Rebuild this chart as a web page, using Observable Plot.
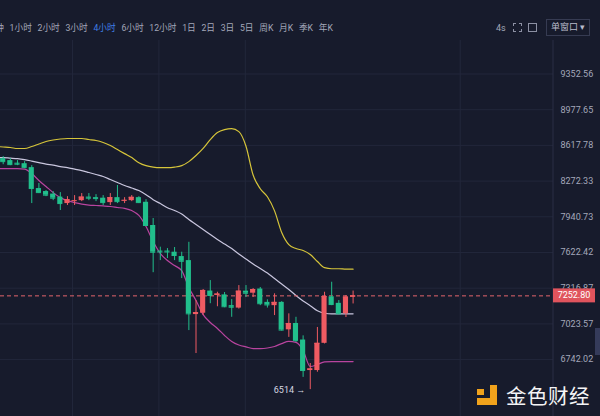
<!DOCTYPE html>
<html><head><meta charset="utf-8">
<script src="https://cdn.jsdelivr.net/npm/d3@7"></script>
<script src="https://cdn.jsdelivr.net/npm/@observablehq/plot@0.6"></script>
<style>
  html,body{margin:0;padding:0;}
  body{width:600px;height:416px;overflow:hidden;position:relative;background:#171b2c;font-family:Roboto,"Noto Sans CJK SC",sans-serif;}
  #header{position:absolute;left:0;top:0;width:600px;height:40px;overflow:hidden;}
  #periods{position:absolute;left:-13.5px;top:22px;display:flex;gap:5.7px;font-size:8.7px;line-height:12px;color:#a3a7b9;white-space:nowrap;}
  #periods span.active{color:#3f7fe6;}
  .hd{position:absolute;font-size:9px;line-height:12px;color:#a3a7b9;}
  .ico{position:absolute;top:23px;width:7px;height:7px;border:1px dashed #8c90a3;}
  #win{position:absolute;left:546px;top:19px;width:42px;height:15px;border:1px solid #363b52;font-size:9px;line-height:15px;color:#b9bccb;text-align:center;}
  #chart{position:absolute;left:0;top:40px;}
  #tab{position:absolute;left:595px;top:328px;width:5px;height:27px;background:#353b5a;}
  #wm{position:absolute;left:506px;top:383px;font-size:20.5px;line-height:24px;color:#f4f4f6;font-family:"Noto Sans CJK SC",sans-serif;letter-spacing:0.5px;}
  .lg{position:absolute;background:#f0a21c;}
</style></head>
<body>
<div id="header">
  <div id="periods"></div>
  <div class="hd" style="left:496px;top:22px;">4s</div>
  <div class="ico" style="left:513px;"></div>
  <div class="ico" style="left:528px;border-style:solid;border-color:#8c90a3;"></div>
  <div id="win">单窗口 ▾</div>
</div>
<div id="chart"></div>
<div id="tab"></div>
<div class="lg" style="left:490px;top:385px;width:7px;height:20px;"></div>
<div class="lg" style="left:477px;top:398px;width:20px;height:7px;"></div>
<div class="lg" style="left:477px;top:389px;width:7px;height:6px;"></div>
<div id="wm">金色财经</div>
<script>
// ---- data ----
const periods = ["分钟","1小时","2小时","3小时","4小时","6小时","12小时","1日","2日","3日","5日","周K","月K","季K","年K"];
const activePeriod = "4小时";

const open  = [8488,8469,8444,8439,8401,8202,8174,8150,8122,8062,8085,8089,8122,8117,8112,8071,8117,8086,8089,8117,8074,7862,7635,7635,7625,7587,7552,7099,7110,7293,7256,7261,7172,7152,7292,7275,7310,7199,7172,7199,6976,7027,6895,6658,6658,6869,7245,7191,7105,7241];
const close = [8459,8430,8434,8401,8202,8164,8140,8112,8062,8098,8089,8122,8112,8108,8071,8117,8080,8092,8120,8071,7862,7625,7627,7627,7596,7546,7105,7115,7298,7256,7268,7163,7159,7292,7275,7306,7188,7178,7199,6974,7027,6890,6658,6670,6869,7247,7181,7105,7243,7252.8];
const high  = [8508,8488,8469,8459,8420,8250,8183,8174,8164,8126,8136,8155,8155,8145,8136,8155,8231,8117,8136,8126,8098,7925,7669,7657,7666,7625,7712,7214,7306,7381,7283,7281,7222,7339,7339,7314,7323,7220,7270,7205,7105,7077,6928,6712,6995,7283,7367,7214,7256,7293];
const low   = [8429,8420,8420,8391,8062,8155,8126,8089,7998,8044,8044,8080,8089,8080,8044,8044,8062,8062,8080,8062,7852,7448,7552,7570,7552,7398,6970,6789,7091,7188,7163,7155,7077,7144,7239,7239,7172,7152,7091,6966,6916,6876,6606,6514,6645,6864,7172,7099,7075,7186];

// Bollinger bands, starting one candle before the first visible candle
const bandStart = -1;
const upperBand  = [8607,8602,8597,8587,8587,8607,8632,8656,8671,8681,8686,8686,8686,8676,8666,8646,8617,8577,8537,8498,8449,8420,8406,8401,8401,8406,8420,8459,8518,8588,8675,8745,8775,8785,8755,8610,8330,8200,8125,7995,7800,7692,7657,7640,7605,7544,7491,7482,7482,7478,7478];
const middleBand = [8498,8498,8493,8488,8478,8464,8449,8434,8425,8411,8401,8387,8373,8354,8335,8316,8287,8259,8231,8207,8183,8145,8098,8062,8024,7998,7966,7916,7871,7826,7781,7737,7697,7657,7609,7566,7522,7484,7445,7398,7352,7306,7256,7210,7172,7130,7110,7105,7105,7105,7105];
const lowerBand  = [8391,8391,8391,8391,8387,8344,8278,8221,8164,8117,8089,8071,8057,8048,8044,8040,8035,8026,8017,7998,7953,7853,7719,7614,7553,7509,7465,7323,7214,7099,7035,6987,6931,6884,6856,6841,6828,6828,6832,6844,6867,6884,6876,6813,6689,6704,6724,6727,6727,6727,6727];

const yTicks = [6742.02, 7023.57, 7316.87, 7622.42, 7940.73, 8272.33, 8617.78, 8977.65, 9352.56];
const gridDays = [9.7, 21.8, 33.9, 64.0];   // vertical grid positions (candle index)
const lastPrice = 7252.80;
const lowPrice = 6514;
const lowIndex = 43;

// ---- header ----
const per = document.getElementById("periods");
periods.forEach(p => { const s = document.createElement("span"); s.textContent = p; if (p === activePeriod) s.className = "active"; per.appendChild(s); });

// ---- chart ----
const UP = "#ef5b62", DOWN = "#21bf8c";
const candles = open.map((o, i) => ({i, open: o, close: close[i], high: high[i], low: low[i], color: close[i] >= o ? UP : DOWN}));
const band = (arr) => arr.map((v, k) => ({i: k + bandStart, v}));
const hw = 0.36;

const chart = Plot.plot({
  width: 600, height: 376,
  marginLeft: 0, marginRight: 47, marginTop: 0, marginBottom: 0,
  style: {background: "transparent", color: "#a4a8ba", fontFamily: "Roboto, sans-serif", fontSize: "9px", overflow: "hidden"},
  x: {domain: [0, 49], range: [2.7, 352.6], axis: null},
  y: {type: "log", domain: [6742.02, 9352.56], range: [319.1, 33.5], axis: null},
  marks: [
    Plot.ruleY(yTicks, {stroke: "#22273b", strokeWidth: 1}),
    Plot.ruleX(gridDays, {stroke: "#22273b", strokeWidth: 1}),
    Plot.line(band(upperBand), {x: "i", y: "v", stroke: "#d6c53a", strokeWidth: 1.2, curve: "monotone-x"}),
    Plot.line(band(middleBand), {x: "i", y: "v", stroke: "#c9c6de", strokeWidth: 1.2, curve: "monotone-x"}),
    Plot.line(band(lowerBand), {x: "i", y: "v", stroke: "#b9449f", strokeWidth: 1.2, curve: "monotone-x"}),
    Plot.ruleY([lastPrice], {stroke: "#e3646d", strokeDasharray: "4,3", strokeWidth: 1}),
    Plot.ruleX(candles, {x: "i", y1: "low", y2: "high", stroke: "color", strokeWidth: 1}),
    Plot.rect(candles, {x1: d => d.i - hw, x2: d => d.i + hw, y1: "open", y2: "close", fill: "color"}),
    Plot.ruleY(candles, {y: "close", x1: d => d.i - hw, x2: d => d.i + hw, stroke: "color", strokeWidth: 1}),
    Plot.text([{i: lowIndex, v: lowPrice}], {x: "i", y: "v", text: d => `${d.v} →`, textAnchor: "end", dx: -5, fill: "#d6d8e2", fontSize: 9}),
    Plot.text(yTicks, {y: d => d, frameAnchor: "right", dx: 7, textAnchor: "start", text: d => d.toFixed(2), fill: "#a4a8ba", fontSize: 9})
  ]
});

const svg = d3.select(chart);
const fx = 600 - 47;
svg.append("line").attr("x1", fx).attr("x2", fx).attr("y1", 0).attr("y2", 376).attr("stroke", "#2a2f45");
const py = chart.scale("y").apply(lastPrice);
svg.append("rect").attr("x", fx).attr("y", py - 7).attr("width", 42).attr("height", 14).attr("fill", "#e0545d");
svg.append("text").attr("x", fx + 21).attr("y", py).attr("dy", "0.34em").attr("text-anchor", "middle")
  .attr("fill", "#ffffff").attr("font-size", 9).attr("font-family", "Roboto, sans-serif").text(lastPrice.toFixed(2));

document.getElementById("chart").appendChild(chart);
</script>
</body></html>
